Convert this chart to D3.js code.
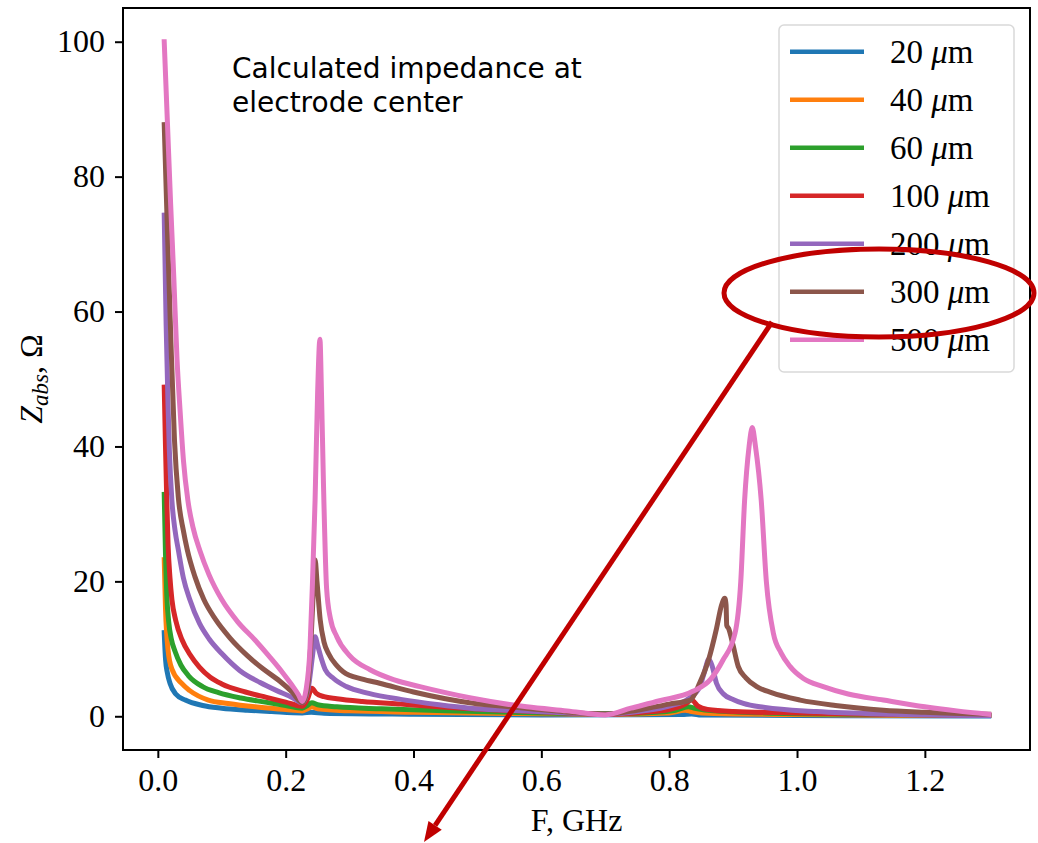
<!DOCTYPE html>
<html><head><meta charset="utf-8">
<script src="https://cdn.jsdelivr.net/npm/d3@7"></script>
<style>
html,body{margin:0;padding:0;background:#fff;}
svg{display:block;}
</style></head>
<body>
<svg id="chart" width="1038" height="843"></svg>
<script>
// ---------- data (F in GHz, |Z| in Ohm) ----------
const seriesNames = ["20", "40", "60", "100", "200", "300", "500"];
const xTicks = [0.0, 0.2, 0.4, 0.6, 0.8, 1.0, 1.2];
const yTicks = [0, 20, 40, 60, 80, 100];

const z20 = [[0.01,12.4],[0.012,8.5],[0.015,6.4],[0.019,4.9],[0.028,3.3],[0.043,2.4],[0.07,1.6],[0.1,1.2],[0.14,0.9],[0.178,0.7],[0.226,0.5],[0.24,0.6],[0.26,0.45],[0.4,0.3],[0.6,0.2],[0.82,0.25],[0.835,0.35],[0.85,0.2],[1.0,0.1],[1.3,0.05]];
const z40 = [[0.01,23.2],[0.012,16],[0.016,9.8],[0.022,7],[0.037,4.9],[0.05,3.8],[0.079,2.4],[0.11,1.9],[0.152,1.4],[0.2,1.0],[0.226,0.8],[0.234,1.1],[0.241,1.4],[0.25,1.1],[0.3,0.8],[0.4,0.6],[0.55,0.4],[0.7,0.3],[0.8,0.5],[0.825,0.9],[0.835,0.7],[0.87,0.4],[1.0,0.25],[1.3,0.1]];
const z60 = [[0.01,32.9],[0.012,24],[0.014,18],[0.017,14],[0.021,11.5],[0.027,9.6],[0.036,7.6],[0.048,6.0],[0.07,4.4],[0.095,3.5],[0.13,2.7],[0.168,2.1],[0.2,1.6],[0.226,1.2],[0.234,1.6],[0.241,2.0],[0.25,1.7],[0.28,1.4],[0.35,1.1],[0.45,0.8],[0.55,0.6],[0.65,0.4],[0.72,0.4],[0.78,0.6],[0.81,0.9],[0.83,1.4],[0.84,1.2],[0.87,0.8],[0.95,0.5],[1.1,0.3],[1.3,0.1]];
const z100 = [[0.01,48.8],[0.012,40],[0.014,32],[0.016,25.5],[0.019,20.5],[0.022,17.3],[0.028,14.2],[0.038,11.3],[0.05,9.2],[0.065,7.3],[0.082,5.8],[0.1,4.8],[0.137,3.6],[0.17,2.8],[0.2,2.1],[0.226,1.5],[0.234,2.5],[0.241,4.15],[0.248,3.4],[0.26,2.9],[0.28,2.6],[0.32,2.2],[0.38,1.8],[0.44,1.4],[0.49,1.1],[0.56,0.8],[0.64,0.5],[0.70,0.3],[0.76,0.6],[0.80,1.0],[0.825,1.8],[0.835,2.4],[0.845,1.5],[0.86,1.0],[0.9,0.7],[1.0,0.5],[1.15,0.25],[1.3,0.1]];
const z200 = [[0.01,74.3],[0.013,58],[0.016,46],[0.018,39.5],[0.022,32],[0.027,27.5],[0.032,24.7],[0.04,20.5],[0.05,17.3],[0.065,13.8],[0.08,11.5],[0.1,9.3],[0.128,6.8],[0.16,5.0],[0.186,3.8],[0.21,2.8],[0.226,2.0],[0.235,4],[0.242,9],[0.246,11.8],[0.250,10.5],[0.256,8.5],[0.262,6.9],[0.275,5.6],[0.295,4.4],[0.33,3.4],[0.38,2.5],[0.44,1.7],[0.488,1.2],[0.55,0.9],[0.62,0.6],[0.70,0.3],[0.76,0.8],[0.80,1.5],[0.83,2.6],[0.848,4.4],[0.855,6.5],[0.862,8.45],[0.867,7.5],[0.874,4.9],[0.885,3.3],[0.90,2.5],[0.916,1.9],[0.95,1.3],[1.03,0.7],[1.15,0.3],[1.3,0.1]];
const z300 = [[0.01,87.7],[0.015,72],[0.02,57],[0.026,41],[0.032,32.5],[0.04,27.5],[0.046,24.7],[0.058,20.7],[0.072,17.3],[0.09,14.4],[0.113,11.6],[0.14,9.0],[0.165,7.0],[0.191,5.2],[0.21,3.6],[0.226,2.0],[0.234,4],[0.240,12],[0.244,20],[0.246,23.2],[0.249,20],[0.254,14.3],[0.260,11],[0.267,9.3],[0.280,7.5],[0.290,6.6],[0.32,5.5],[0.347,4.9],[0.40,3.6],[0.45,2.6],[0.488,2.0],[0.55,1.4],[0.62,0.8],[0.70,0.3],[0.75,0.9],[0.80,1.8],[0.833,2.4],[0.848,5.0],[0.862,8.5],[0.874,13.0],[0.882,16.5],[0.887,17.5],[0.889,16.5],[0.890,13.5],[0.893,13.0],[0.90,10.5],[0.908,7.4],[0.92,5.7],[0.937,4.4],[0.96,3.5],[1.005,2.4],[1.06,1.6],[1.135,0.9],[1.2,0.6],[1.3,0.3]];
const z500 = [[0.010,100],[0.015,88],[0.020,76],[0.025,65],[0.030,53],[0.035,45],[0.040,38],[0.047,32],[0.055,28],[0.066,24.5],[0.08,21],[0.10,17.3],[0.125,14],[0.152,11.3],[0.175,8.8],[0.195,6.5],[0.21,4.6],[0.22,3.2],[0.226,2.2],[0.232,4],[0.238,10],[0.242,20],[0.246,32],[0.250,48],[0.2536,55.9],[0.256,48],[0.259,35],[0.264,19],[0.270,14.5],[0.280,11.8],[0.30,9.0],[0.332,6.9],[0.37,5.4],[0.41,4.4],[0.45,3.5],[0.49,2.7],[0.577,1.4],[0.64,0.8],[0.70,0.2],[0.74,1.2],[0.785,2.3],[0.837,3.7],[0.865,5.5],[0.884,8.3],[0.903,12.3],[0.912,20],[0.918,32],[0.925,40],[0.930,42.8],[0.935,40],[0.944,32],[0.952,20],[0.963,12.3],[0.975,9.4],[0.989,7.4],[1.01,5.6],[1.041,4.4],[1.08,3.3],[1.135,2.4],[1.2,1.4],[1.25,0.8],[1.30,0.3]];

const seriesData = [z20, z40, z60, z100, z200, z300, z500];
const colors = ["#1f77b4", "#ff7f0e", "#2ca02c", "#d62728", "#9467bd", "#8c564b", "#e377c2"];

// ---------- layout ----------
const svg = d3.select("#chart");
const L = 123, R = 1030, T = 8, B = 750;
const x = d3.scaleLinear().domain([-0.0545, 1.3645]).range([L, R]);
const y = d3.scaleLinear().domain([-5, 105]).range([B, T]);
const serif = "'Liberation Serif', 'DejaVu Serif', serif";
const LW = 5;

// lines
const line = d3.line().x(d => x(d[0])).y(d => y(d[1])).curve(d3.curveMonotoneX);
const gLines = svg.append("g");
seriesData.forEach((s, i) => {
  gLines.append("path").datum(s).attr("d", line)
    .attr("fill", "none").attr("stroke", colors[i])
    .attr("stroke-width", LW).attr("stroke-linejoin", "round").attr("stroke-linecap", "square");
});

// axes
const xAxis = d3.axisBottom(x).tickValues(xTicks).tickFormat(d3.format(".1f")).tickSize(8).tickSizeOuter(0).tickPadding(8);
const yAxis = d3.axisLeft(y).tickValues(yTicks).tickFormat(d3.format("d")).tickSize(8).tickSizeOuter(0).tickPadding(10);
const gx = svg.append("g").attr("transform", `translate(0,${B})`).call(xAxis);
const gy = svg.append("g").attr("transform", `translate(${L},0)`).call(yAxis);
[gx, gy].forEach(g => {
  g.select(".domain").remove();
  g.selectAll(".tick line").attr("stroke", "#000").attr("stroke-width", 2);
  g.selectAll(".tick text").attr("fill", "#000").style("font-family", serif).style("font-size", "32px");
});
gx.selectAll(".tick text").attr("dy", "0.78em");

// frame
svg.append("rect").attr("x", L).attr("y", T).attr("width", R - L).attr("height", B - T)
  .attr("fill", "none").attr("stroke", "#000").attr("stroke-width", 2);

// axis labels
svg.append("text").attr("x", (L + R) / 2).attr("y", 831).attr("text-anchor", "middle")
  .style("font-family", serif).style("font-size", "32px").text("F, GHz");
const yl = svg.append("text").attr("transform", `translate(42,${(T + B) / 2}) rotate(-90)`)
  .attr("text-anchor", "middle").style("font-family", serif).style("font-size", "32px");
yl.append("tspan").style("font-style", "italic").text("Z");
yl.append("tspan").style("font-style", "italic").style("font-size", "23px").attr("dy", 6).text("abs");
yl.append("tspan").attr("dy", -6).text(", Ω");

// annotation text
const ann = svg.append("text").style("font-family", "'DejaVu Sans', sans-serif").style("font-size", "28px").attr("fill", "#000");
ann.append("tspan").attr("x", 232).attr("y", 78).text("Calculated impedance at");
ann.append("tspan").attr("x", 232).attr("y", 112).text("electrode center");

// legend
const leg = svg.append("g");
leg.append("rect").attr("x", 779).attr("y", 25).attr("width", 235).attr("height", 347)
  .attr("rx", 5).attr("fill", "#fff").attr("fill-opacity", 0.8).attr("stroke", "#d9d9d9").attr("stroke-width", 1.5);
seriesNames.forEach((n, i) => {
  const yy = 51.7 + i * 48;
  leg.append("line").attr("x1", 790).attr("x2", 864).attr("y1", yy).attr("y2", yy)
    .attr("stroke", colors[i]).attr("stroke-width", 4.5);
  const t = leg.append("text").attr("x", 890).attr("y", yy + 11).style("font-family", serif).style("font-size", "33px");
  t.append("tspan").text(n + " ");
  t.append("tspan").style("font-style", "italic").text("μ");
  t.append("tspan").text("m");
});

// red annotation: ellipse + arrow
const red = "#c00000";
svg.append("ellipse").attr("cx", 879).attr("cy", 293).attr("rx", 155).attr("ry", 44)
  .attr("fill", "none").attr("stroke", red).attr("stroke-width", 5);
const ax1 = 772, ay1 = 322, ax2 = 424, ay2 = 842;
const ang = Math.atan2(ay2 - ay1, ax2 - ax1);
const hl = 20, hw = 8;
const bx = ax2 - hl * Math.cos(ang), by = ay2 - hl * Math.sin(ang);
svg.append("line").attr("x1", ax1).attr("y1", ay1).attr("x2", bx).attr("y2", by)
  .attr("stroke", red).attr("stroke-width", 5);
svg.append("path").attr("d", `M${ax2},${ay2} L${bx + hw * Math.sin(ang)},${by - hw * Math.cos(ang)} L${bx - hw * Math.sin(ang)},${by + hw * Math.cos(ang)} Z`)
  .attr("fill", red);
</script>
</body></html>
